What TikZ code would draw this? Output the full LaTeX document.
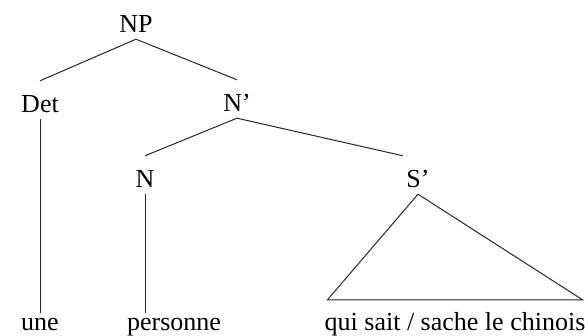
\documentclass[tikz,border=0pt]{standalone}
\usepackage{fontspec}
\setmainfont{Liberation Serif}
\usetikzlibrary{positioning}

\tikzset{
  cat/.style={anchor=base, inner sep=0pt, text height=32pt, text depth=6pt, font=\fontsize{26}{30}\selectfont},
  leaf/.style={anchor=base, inner sep=0pt, text height=18pt, text depth=6pt, font=\fontsize{26}{30}\selectfont},
  branch/.style={draw=black!85, line width=1pt}
}

\begin{document}
\begin{tikzpicture}[x=1pt,y=1pt]
\useasboundingbox (0,0) rectangle (585,336);
% categories
\node[cat] (NP) at (136,303) {NP};
\node[cat] (Det) at (40,223) {Det};
\node[cat] (Nbar) at (237,224) {N'};
\node[cat] (N) at (145,148) {N};
\node[cat] (Sbar) at (418,148) {S'};
% words
\node[leaf] (une) at (40,5) {une};
\node[leaf] (personne) at (174,5) {personne};
\node[leaf, text height=31pt, inner xsep=-3pt] (quisait) at (455,5) {qui sait / sache le chinois};
% branches
\draw[branch] (NP.south) -- (Det.north);
\draw[branch] (NP.south) -- (Nbar.north);
\draw[branch] (Nbar.south) -- (N.north);
\draw[branch] (Nbar.south) -- ([xshift=-15pt]Sbar.north);
\draw[branch] (Det.south) -- (Det.south |- une.north);
\draw[branch] (N.south) -- (N.south |- personne.north);
\draw[branch] (Sbar.south) -- (quisait.north west) -- (quisait.north east) -- cycle;
\end{tikzpicture}
\end{document}
